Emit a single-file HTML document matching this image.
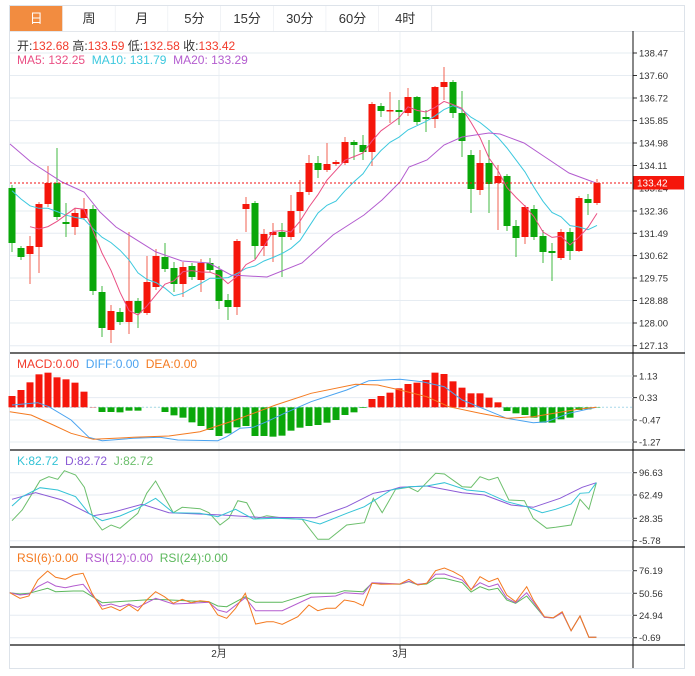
<!DOCTYPE html>
<html><head><meta charset="utf-8">
<style>
html,body{margin:0;padding:0;background:#fff;}
body{width:695px;height:676px;position:relative;overflow:hidden;font-family:"Liberation Sans","Noto Sans CJK SC",sans-serif;}
svg{position:absolute;left:0;top:0;}
</style></head><body>
<svg id="s" width="695" height="676" xmlns="http://www.w3.org/2000/svg" font-family="Liberation Sans, Noto Sans CJK SC, sans-serif"></svg>
<script>
var S=document.getElementById('s');var o='';
function L(x1,y1,x2,y2,c,w,d){o+='<line x1="'+x1+'" y1="'+y1+'" x2="'+x2+'" y2="'+y2+'" stroke="'+c+'" stroke-width="'+(w||1)+'"'+(d?' stroke-dasharray="'+d+'"':'')+'/>';}
function R(x,y,w,h,f,st){o+='<rect x="'+x+'" y="'+y+'" width="'+w+'" height="'+h+'" fill="'+f+'"'+(st?' stroke="'+st+'"':'')+'/>';}
function T(x,y,t,c,sz,anc){o+='<text x="'+x+'" y="'+y+'" fill="'+c+'" font-size="'+sz+'"'+(anc?' text-anchor="'+anc+'"':'')+'>'+t+'</text>';}
function P(pts,c,w){o+='<polyline fill="none" stroke="'+c+'" stroke-width="'+(w||1)+'" points="'+pts.map(function(p){return p[0].toFixed(1)+','+p[1].toFixed(1)}).join(' ')+'"/>';}
function Z(arr,oy){return arr.map(function(p){return [p[0]/2.25,oy+p[1]/3];});}
// outer border
R(9.5,5.5,675,663,'#fff','#dde3ea');
// toolbar
var tabs=['日','周','月','5分','15分','30分','60分','4时'];
for(var i=0;i<tabs.length;i++){var x=10+i*52.7;
 if(i==0)R(x,6,52.7,25,'#f28c40');
 else R(x,6,52.7,25,'#fff');
 L(x+52.7,6,x+52.7,31,'#e3e7ec');
 T(x+26.3,23,tabs[i],i==0?'#fff':'#333',13,'middle');}
L(10,31.5,685,31.5,'#e3e7ec');
// vertical grid
[219,400].forEach(function(x){L(x,32,x,645,'#eef1f4');});
// main grid
var ml=[['138.47',53],['137.60',75.5],['136.72',98],['135.85',120.6],['134.98',143],['134.11',165.5],['133.24',188],['132.36',211],['131.49',233.3],['130.62',255.6],['129.75',278],['128.88',300.5],['128.00',323],['127.13',345.7]];
ml.forEach(function(m){L(10,m[1],633,m[1],'#e6ecf2');L(633,m[1],637,m[1],'#333');T(639,m[1]+3.5,m[0],'#333',9.5);});
// candles
var C=[['g',188,243,185,252],['g',248,257,246,260],['r',246,254,236,284],['r',204,247,202,273],['r',183,204,166,207],['g',183,217,148,220],['g',222,224,203,237],['r',213,227,208,235],['r',209,218,198,220],['g',209,291,205,295],['g',292,328,286,337],['r',311,330,305,343],['g',312,322,308,325],['r',301,322,232,334],['g',301,313,298,328],['r',282,313,256,315],['r',256,287,249,290],['g',257,269,243,272],['g',268,284,262,292],['r',267,284,262,297],['g',266,277,263,280],['r',263,280,259,292],['g',263,270,258,272],['g',270,301,266,309],['g',300,307,294,320],['r',241,307,239,315],['r',204,209,197,232],['g',203,246,201,259],['r',234,246,229,256],['r',232,235,223,262],['g',232,237,223,277],['r',211,237,195,240],['r',192,211,180,233],['r',163,192,155,195],['g',163,170,156,178],['r',164,170,143,172],['r',162,164,160,166],['r',142,163,137,165],['g',142,145,140,160],['g',145,152,135,160],['r',104,152,102,166],['g',106,111,103,117],['r',110,111,92,123],['g',110,112,100,125],['r',97,113,88,116],['g',97,122,96,125],['g',117,119,110,132],['r',87,119,86,128],['r',82,87,67,100],['g',82,113,80,118],['g',113,141,91,157],['g',155,189,150,213],['r',163,190,150,195],['g',163,184,140,213],['r',176,183,165,230],['g',176,226,174,231],['g',226,238,220,257],['r',207,237,205,244],['g',209,237,205,240],['g',236,252,230,263],['g',251,253,243,281],['r',232,258,229,260],['g',232,251,228,260],['r',198,251,196,252],['g',199,203,194,215],['r',183,203,179,205]];
function X(i){return 12+i*9.0;}
var closes=[];
C.forEach(function(c,i){var x=X(i);var col=c[0]=='r'?'#f5160b':'#0aa70a';
 L(x,c[3],x,c[4],c[0]=='r'?'#f06050':'#40b840',1);
 R(x-3.5,c[1],7,Math.max(1.5,c[2]-c[1]),col);
 closes.push(c[0]=='r'?c[1]:c[2]);});
// MA lines
var hist=[];for(var k=0;k<19;k++)hist.push(150+k*2.5);
var all=hist.concat(closes);
function MA(n){var r=[];for(var i=0;i<closes.length;i++){var j=i+19,s=0;for(var q=0;q<n;q++)s+=all[j-q];r.push([X(i),s/n]);}return r;}
P(MA(10),'#3cc8de',1);
P(MA(5).slice(2),'#ea4f84',1);
P([[10,144],[31,162],[62,182],[84,192],[100,212],[116,227],[156,252],[182,261],[209,263],[231,275],[267,277],[302,263],[333,235],[364,215],[382,200],[400,182],[409,167],[427,160],[444,145],[462,137],[489,133],[500,134],[524,143],[545,157],[569,173],[596,183]],'#b35ccf',1);
// current price
L(10,183,633,183,'#f01010',1,'2,2');
R(633,176,51,13.5,'#f5160b');T(637,186.5,'133.42','#fff',10);
// legends
o+='<text x="17" y="50" font-size="12"><tspan fill="#333">开:</tspan><tspan fill="#f23b2b">132.68</tspan><tspan fill="#333">  高:</tspan><tspan fill="#f23b2b">133.59</tspan><tspan fill="#333">  低:</tspan><tspan fill="#f23b2b">132.58</tspan><tspan fill="#333">  收:</tspan><tspan fill="#f23b2b">133.42</tspan></text>';
o+='<text x="17" y="64" font-size="12" xml:space="preserve"><tspan fill="#ea4f84">MA5: 132.25</tspan>  <tspan fill="#3cc8de">MA10: 131.79</tspan>  <tspan fill="#b35ccf">MA20: 133.29</tspan></text>';
// separators
[353,450,547,645].forEach(function(y){L(10,y,685,y,'#111',1.3);});
L(633,31,633,668,'#111',1);
// MACD
[['1.13',376],['0.33',397.6],['-0.47',420],['-1.27',442]].forEach(function(m){L(10,m[1],633,m[1],'#e6ecf2');L(633,m[1],637,m[1],'#333');T(639,m[1]+3.5,m[0],'#333',9.5);});
var zero=407.3;L(10,zero,633,zero,'#a8d8ea',1,'2,2');
var mb=[138,120,97,73,68,82,88,98,125,171,186,186,187,182,182,172,172,186,196,203,217,228,240,258,250,232,228,258,258,260,257,242,233,228,225,218,210,195,187,174,147,138,128,115,102,98,90,68,72,94,113,130,130,143,157,183,190,195,203,218,218,208,203,180,178,173];
mb.forEach(function(v,i){var y=350+v/3;var x=X(i);if(y<zero)R(x-3.5,y,7,zero-y,'#f5160b');else if(y>zero)R(x-3.5,zero,7,y-zero,'#0aa70a');});
P(Z([[27,165],[85,158],[110,170],[160,210],[200,262],[230,272],[300,265],[360,262],[400,270],[490,272],[510,260],[540,235],[570,232],[600,215],[640,190],[700,155],[780,120],[830,92],[900,88],[950,95],[1000,110],[1040,150],[1080,172],[1140,205],[1200,218],[1230,215],[1280,190],[1342,172]],350),'#4aa3f0');
P(Z([[22,185],[70,195],[120,225],[160,250],[210,268],[300,262],[380,258],[450,245],[530,210],[620,165],[700,130],[800,103],[850,105],[900,120],[960,140],[1010,170],[1080,190],[1140,205],[1200,200],[1300,178],[1342,172]],350),'#f47a20');
o+='<text x="17" y="368" font-size="12" xml:space="preserve"><tspan fill="#f23b2b">MACD:0.00</tspan>  <tspan fill="#4aa3f0">DIFF:0.00</tspan>  <tspan fill="#f47a20">DEA:0.00</tspan></text>';
// KDJ
[['96.63',472.7],['62.49',495],['28.35',518.3],['-5.78',540.7]].forEach(function(m){L(10,m[1],633,m[1],'#e6ecf2');L(633,m[1],637,m[1],'#333');T(639,m[1]+3.5,m[0],'#333',9.5);});
P(Z([[27,512],[50,480],[90,392],[110,380],[130,388],[145,362],[170,375],[190,412],[210,505],[230,540],[250,525],[270,535],[310,490],[330,430],[350,393],[370,440],[390,488],[410,472],[450,476],[470,488],[495,525],[515,505],[535,452],[555,458],[575,507],[600,497],[640,505],[680,508],[715,568],[740,568],[780,525],[820,518],[840,445],[860,488],[890,418],[920,412],[940,425],[980,370],[1000,372],[1040,410],[1060,412],[1080,380],[1100,390],[1120,382],[1145,450],[1180,452],[1200,505],[1230,535],[1250,532],[1285,525],[1305,448],[1325,478],[1342,398]],350),'#6cbf6c');
P(Z([[27,448],[80,428],[140,450],[210,497],[250,488],[320,463],[380,488],[500,495],[580,502],[710,503],[780,470],[840,430],[880,420],[900,412],[960,408],[1040,428],[1090,435],[1150,465],[1200,472],[1260,445],[1310,412],[1342,398]],350),'#8b5bd6');
P(Z([[27,468],[50,440],[90,413],[130,420],[170,440],[200,490],[230,512],[270,498],[310,475],[350,445],[390,488],[450,490],[490,500],[530,478],[570,507],[620,505],[680,508],[720,522],[780,490],[820,470],[850,445],[880,420],[920,410],[960,408],[1000,398],[1050,420],[1090,425],[1140,455],[1185,470],[1220,488],[1250,478],[1285,462],[1305,430],[1325,428],[1342,398]],350),'#34c3d6');
o+='<text x="17" y="465" font-size="12" xml:space="preserve"><tspan fill="#34c3d6">K:82.72</tspan>  <tspan fill="#8b5bd6">D:82.72</tspan>  <tspan fill="#6cbf6c">J:82.72</tspan></text>';
// RSI
[['76.19',570.7],['50.56',593.3],['24.94',615.3],['-0.69',637.7]].forEach(function(m){L(10,m[1],633,m[1],'#e6ecf2');L(633,m[1],637,m[1],'#333');T(639,m[1]+3.5,m[0],'#333',9.5);});
P(Z([[22,158],[45,162],[65,160],[107,145],[125,155],[165,153],[187,153],[230,188],[350,178],[430,183],[470,185],[490,198],[510,200],[552,170],[575,187],[635,187],[700,160],[755,160],[775,152],[817,155],[837,130],[900,133],[920,125],[940,134],[960,132],[980,115],[1000,115],[1040,128],[1060,156],[1080,140],[1100,150],[1120,145],[1140,180],[1160,190],[1185,168],[1225,232],[1245,234],[1265,218],[1285,272],[1305,228],[1325,292],[1342,292]],540),'#5cb85c');
P(Z([[22,158],[45,165],[65,162],[85,140],[107,125],[125,138],[147,143],[165,138],[187,133],[207,165],[230,198],[250,192],[270,200],[290,192],[310,202],[350,175],[390,192],[430,190],[470,187],[490,210],[510,217],[552,173],[575,212],[635,212],[700,172],[755,168],[775,158],[817,162],[837,128],[900,132],[920,124],[940,133],[960,130],[980,103],[1000,102],[1040,120],[1060,148],[1080,128],[1100,140],[1120,132],[1140,175],[1160,188],[1185,158],[1225,232],[1245,234],[1265,218],[1285,272],[1305,228],[1325,292],[1342,292]],540),'#b35ccf');
P(Z([[22,158],[45,175],[65,168],[85,120],[107,93],[125,112],[147,118],[165,105],[187,100],[207,160],[230,208],[250,200],[270,212],[290,195],[310,213],[330,180],[350,155],[370,170],[390,190],[410,178],[430,188],[450,182],[470,185],[490,225],[510,235],[530,205],[552,160],[575,252],[600,245],[615,245],[635,253],[670,230],[695,195],[715,212],[735,205],[755,205],[775,180],[797,185],[817,197],[837,130],[857,133],[900,132],[920,118],[940,135],[960,130],[980,92],[1000,84],[1020,95],[1040,110],[1060,150],[1080,110],[1100,125],[1120,115],[1140,165],[1160,185],[1185,140],[1200,180],[1225,230],[1245,233],[1265,215],[1285,272],[1305,228],[1325,292],[1342,292]],540),'#f47a20');
o+='<text x="17" y="562" font-size="12" xml:space="preserve"><tspan fill="#f47a20">RSI(6):0.00</tspan>  <tspan fill="#b35ccf">RSI(12):0.00</tspan>  <tspan fill="#5cb85c">RSI(24):0.00</tspan></text>';
// dates
L(219,645,219,649,'#333');L(400,645,400,649,'#333');
T(219,657,'2月','#333',10,'middle');T(400,657,'3月','#333',10,'middle');
S.innerHTML=o;
</script>
</body></html>
